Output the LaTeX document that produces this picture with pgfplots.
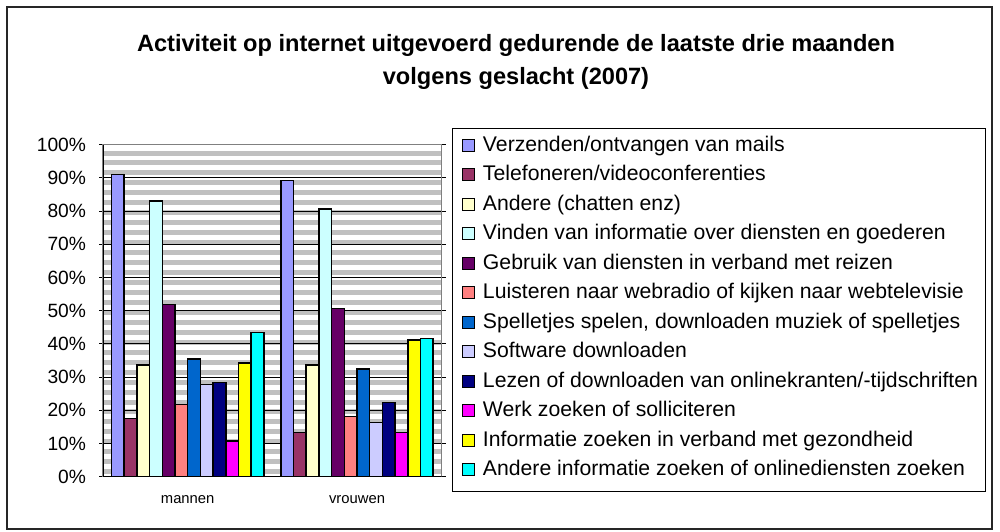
\documentclass[border=0pt]{standalone}
\usepackage{pgfplots}
\pgfplotsset{compat=1.18}
\usepackage{fontspec}
\setmainfont{Liberation Sans}
\definecolor{c1}{HTML}{9999FF}
\definecolor{c2}{HTML}{993366}
\definecolor{c3}{HTML}{FFFFCC}
\definecolor{c4}{HTML}{CCFFFF}
\definecolor{c5}{HTML}{660066}
\definecolor{c6}{HTML}{FF8080}
\definecolor{c7}{HTML}{0066CC}
\definecolor{c8}{HTML}{CCCCFF}
\definecolor{c9}{HTML}{000080}
\definecolor{c10}{HTML}{FF00FF}
\definecolor{c11}{HTML}{FFFF00}
\definecolor{c12}{HTML}{00FFFF}
\definecolor{stripe}{HTML}{C0C0C0}
\begin{document}
\begin{tikzpicture}
\useasboundingbox (0pt,0pt) rectangle (500pt,265.5pt);
\draw[line width=0.75pt, black!85] (3.5pt,262pt) rectangle (496pt,1pt);
\node[align=center, font=\bfseries\fontsize{11.8}{16.5}\selectfont] at (258pt,234.5pt)
  {Activiteit op internet uitgevoerd gedurende de laatste drie maanden\\volgens geslacht (2007)};
\begin{axis}[
  at={(51.5pt,27.15pt)}, anchor=south west,
  scale only axis, width=169.35pt, height=166pt,
  xmin=-0.5, xmax=1.5, ymin=0, ymax=100,
  ybar=0pt, bar width=0.075,
  axis background/.style={fill=white},
  axis line style={draw=gray, line width=0.6pt},
  xtick={0,1}, xticklabels={mannen,vrouwen},
  x tick style={draw=none},
  extra x ticks={-0.5,0.5,1.5}, extra x tick labels={},
  extra x tick style={tick style={draw=black, line width=0.5pt}, major tick length=2.5pt, tick align=outside},
  xticklabel style={font=\fontsize{7.4}{8}\selectfont, yshift=-4pt},
  ytick={0,10,...,100},
  yticklabels={0\%,10\%,20\%,30\%,40\%,50\%,60\%,70\%,80\%,90\%,100\%},
  yticklabel style={font=\fontsize{9.6}{11}\selectfont, xshift=-3pt},
  y tick style={draw=black, line width=0.5pt},
  tick align=outside, major tick length=2pt,
  minor ytick={1.5,4.5,...,99}, minor tick length=0pt,
  ymajorgrids, yminorgrids,
  major grid style={draw=black, line width=0.5pt},
  minor grid style={draw=stripe, line width=2.5pt},
  legend style={draw=none, fill=none, at={(1.0599,1.0435)}, anchor=north west,
    inner sep=0pt, outer sep=0pt, row sep=0pt, column sep=4pt,
    font=\fontsize{10.6}{12}\selectfont,
    nodes={inner sep=0pt, minimum height=14.75pt}},
  legend cell align=left,
  legend image code/.code={\draw[#1, line width=0.5pt, draw=black] (0pt,-3pt) rectangle (6pt,3pt);},
  every axis plot/.append style={draw=black, line width=0.75pt},
]
\addplot[fill=c1] coordinates {(0,91.1) (1,89.2)};
\addplot[fill=c2] coordinates {(0,17.5) (1,13.3)};
\addplot[fill=c3] coordinates {(0,33.7) (1,33.7)};
\addplot[fill=c4] coordinates {(0,83.1) (1,80.7)};
\addplot[fill=c5] coordinates {(0,51.9) (1,50.6)};
\addplot[fill=c6] coordinates {(0,21.7) (1,18.1)};
\addplot[fill=c7] coordinates {(0,35.5) (1,32.5)};
\addplot[fill=c8] coordinates {(0,27.7) (1,16.3)};
\addplot[fill=c9] coordinates {(0,28.3) (1,22.4)};
\addplot[fill=c10] coordinates {(0,10.8) (1,13.3)};
\addplot[fill=c11] coordinates {(0,34.3) (1,41.2)};
\addplot[fill=c12] coordinates {(0,43.4) (1,41.7)};
\legend{Verzenden/ontvangen van mails,
Telefoneren/videoconferenties,
Andere (chatten enz),
Vinden van informatie over diensten en goederen,
Gebruik van diensten in verband met reizen,
Luisteren naar webradio of kijken naar webtelevisie,
{Spelletjes spelen, downloaden muziek of spelletjes},
Software downloaden,
Lezen of downloaden van onlinekranten/-tijdschriften,
Werk zoeken of solliciteren,
Informatie zoeken in verband met gezondheid,
Andere informatie zoeken of onlinediensten zoeken}
\draw[black, line width=0.9pt] (rel axis cs:0,1) -- (rel axis cs:0,0) -- (rel axis cs:1,0);
\end{axis}
\draw[black, line width=0.5pt] (226.35pt,201.35pt) rectangle (492.5pt,19.65pt);
\end{tikzpicture}
\end{document}
